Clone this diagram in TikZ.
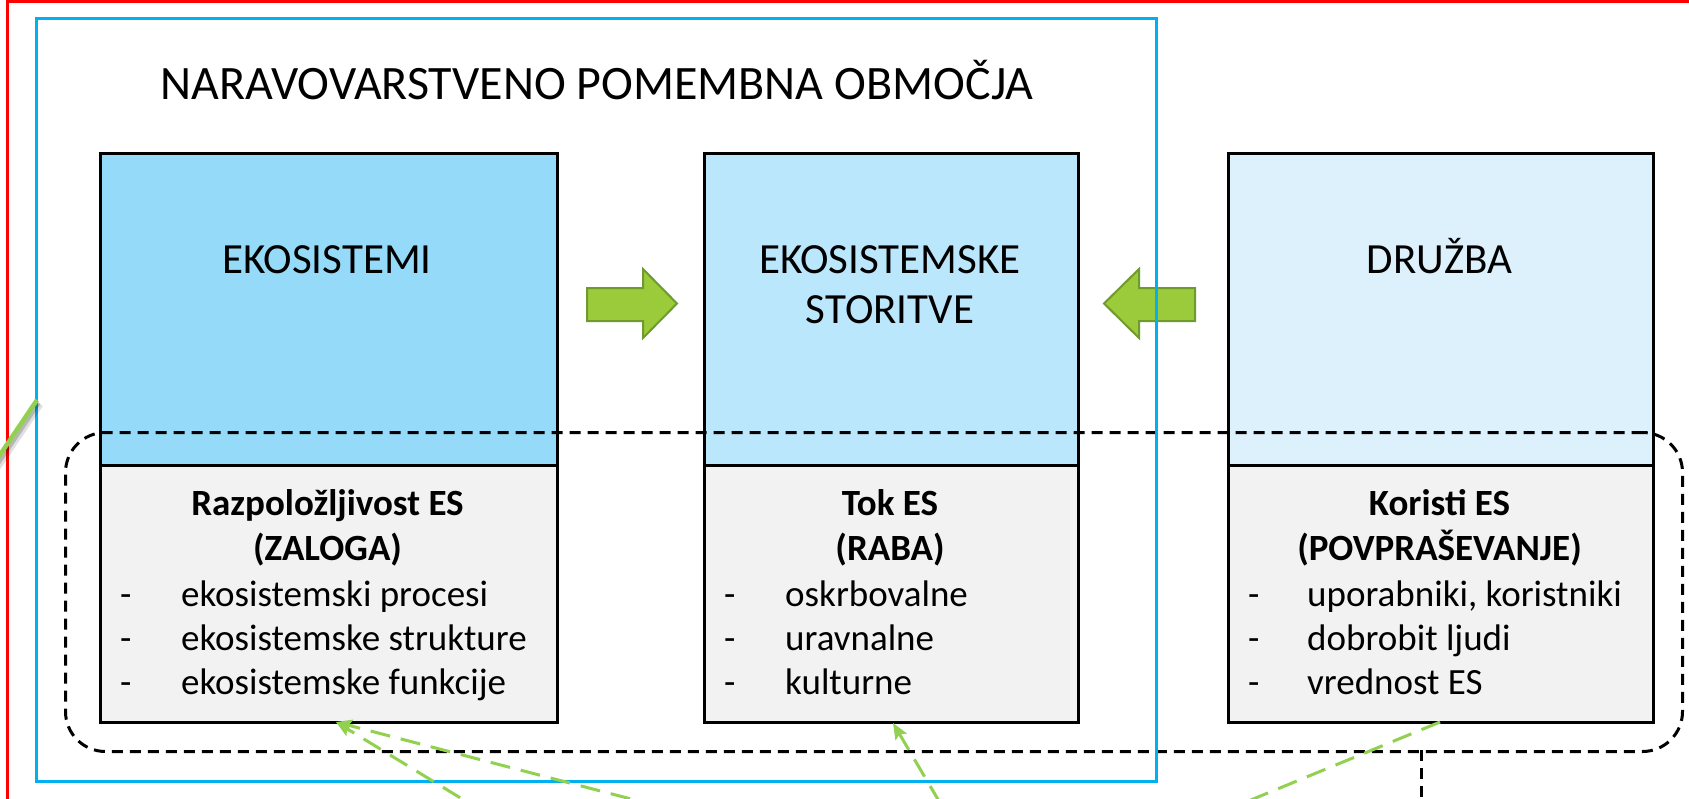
\documentclass[tikz,border=0pt]{standalone}
\usepackage{fontspec}
\setmainfont{Carlito}
\usetikzlibrary{arrows.meta}
\definecolor{redline}{RGB}{255,0,0}
\definecolor{blueline}{RGB}{0,176,240}
\definecolor{fillA}{RGB}{149,219,249}
\definecolor{fillB}{RGB}{186,231,252}
\definecolor{fillC}{RGB}{220,241,252}
\definecolor{fillG}{RGB}{242,242,242}
\definecolor{agreen}{RGB}{155,203,59}
\definecolor{adark}{RGB}{111,154,45}
\definecolor{lgreen}{RGB}{146,208,80}
\tikzset{
  boxline/.style={draw=black, line width=3pt, inner sep=0pt, anchor=north west},
  lbl/.style={anchor=base, inner sep=0pt, font=\fontsize{43}{50}\selectfont},
  ttl/.style={anchor=base, inner sep=0pt, font=\fontsize{48}{58}\selectfont},
  headtxt/.style={anchor=base, inner sep=0pt, font=\fontsize{37}{44}\selectfont\bfseries},
  itemtxt/.style={anchor=base west, inner sep=0pt, font=\fontsize{37}{44}\selectfont},
  gdash/.style={draw=lgreen, line width=3pt, dash pattern=on 20pt off 11pt},
  bdash/.style={draw=black, line width=3pt, dash pattern=on 11pt off 7pt},
  blockarrow/.style={fill=agreen, draw=adark, line width=2pt, line join=miter},
  gtip/.style={-{Stealth[length=16pt,width=13pt,inset=3pt]}},
}
\begin{document}
\begin{tikzpicture}[x=1pt,y=-1pt]
\useasboundingbox (0,0) rectangle (1689,798);
\begin{scope}
\clip (0,0) rectangle (1689,798);
\fill[white] (0,0) rectangle (1689,798);
% outer red frame
\draw[redline, line width=3pt] (7.5,1.5) rectangle (1750,850);

% boxes
\node[boxline, fill=fillA, minimum width=457, minimum height=312] (b1top) at (99,152) {};
\node[boxline, fill=fillG, minimum width=457, minimum height=257] (b1bot) at (99,464) {};
\node[boxline, fill=fillB, minimum width=374, minimum height=312] (b2top) at (703,152) {};
\node[boxline, fill=fillG, minimum width=374, minimum height=257] (b2bot) at (703,464) {};
\node[boxline, fill=fillC, minimum width=425, minimum height=312] (b3top) at (1227,152) {};
\node[boxline, fill=fillG, minimum width=425, minimum height=257] (b3bot) at (1227,464) {};

% block arrows
\draw[blockarrow] (587,288) -- (643,288) -- (643,269) -- (677,303.5) -- (643,338) -- (643,321) -- (587,321) -- cycle;
\draw[blockarrow] (1195,288) -- (1139,288) -- (1139,269) -- (1104,303.5) -- (1139,338) -- (1139,321) -- (1195,321) -- cycle;

% title
\node[ttl] (title) at (597,99) {NARAVOVARSTVENO POMEMBNA OBMOČJA};

% top labels
\node[lbl] (l1) at (327,273) {EKOSISTEMI};
\node[lbl] (l2a) at (890,273) {EKOSISTEMSKE};
\node[lbl] (l2b) at (890,323) {STORITVE};
\node[lbl] (l3) at (1439.5,273) {DRUŽBA};

% box 1 lower text
\node[headtxt] (h1a) at (327.5,515) {Razpoložljivost ES};
\node[headtxt] (h1b) at (327.5,560) {(ZALOGA)};
\node[itemtxt] (d11) at (120,606) {-};
\node[itemtxt] (i11) at (181,606) {ekosistemski procesi};
\node[itemtxt] (d12) at (120,650) {-};
\node[itemtxt] (i12) at (181,650) {ekosistemske strukture};
\node[itemtxt] (d13) at (120,694) {-};
\node[itemtxt] (i13) at (181,694) {ekosistemske funkcije};

% box 2 lower text
\node[headtxt] (h2a) at (890,515) {Tok ES};
\node[headtxt] (h2b) at (890,560) {(RABA)};
\node[itemtxt] (d21) at (724,606) {-};
\node[itemtxt] (i21) at (785,606) {oskrbovalne};
\node[itemtxt] (d22) at (724,650) {-};
\node[itemtxt] (i22) at (785,650) {uravnalne};
\node[itemtxt] (d23) at (724,694) {-};
\node[itemtxt] (i23) at (785,694) {kulturne};

% box 3 lower text
\node[headtxt] (h3a) at (1439.5,515) {Koristi ES};
\node[headtxt] (h3b) at (1439.5,560) {(POVPRAŠEVANJE)};
\node[itemtxt] (d31) at (1248,606) {-};
\node[itemtxt] (i31) at (1307,606) {uporabniki, koristniki};
\node[itemtxt] (d32) at (1248,650) {-};
\node[itemtxt] (i32) at (1307,650) {dobrobit ljudi};
\node[itemtxt] (d33) at (1248,694) {-};
\node[itemtxt] (i33) at (1307,694) {vrednost ES};

% dashed rounded frame
\node[bdash, rounded corners=40pt, inner sep=0pt, anchor=north west, minimum width=1617, minimum height=319] (dbox) at (64,431) {};
\coordinate (dv1) at (1421,750);
\coordinate (dv2) at (1421,830);
\draw[bdash] (dv1) -- (dv2);

% blue frame
\draw[blueline, line width=3pt] (36.5,18.5) rectangle (1156,781.5);

% green solid line with soft shadow (left)
\coordinate (gl1) at (37,400);
\coordinate (gl2) at (-15,477);
\draw[black, opacity=0.12, line width=7pt] ([shift={(3,4)}]gl1) -- ([shift={(3,4)}]gl2);
\draw[black, opacity=0.18, line width=4pt] ([shift={(2,3)}]gl1) -- ([shift={(2,3)}]gl2);
\draw[lgreen, line width=4.5pt] (gl1) -- (gl2);

% green dashed connectors
\coordinate (t1) at (336,722);
\coordinate (s1) at (513,830);
\coordinate (s2) at (750,830);
\coordinate (t2) at (893,723);
\coordinate (s3) at (956,830);
\coordinate (f3) at (1440,722);
\coordinate (e3) at (1178,830);
\draw[gdash, gtip] (s1) -- (t1);
\draw[gdash, gtip] (s2) -- (t1);
\draw[gdash, gtip] (s3) -- (t2);
\draw[gdash] (f3) -- (e3);
\end{scope}
\end{tikzpicture}
\end{document}
